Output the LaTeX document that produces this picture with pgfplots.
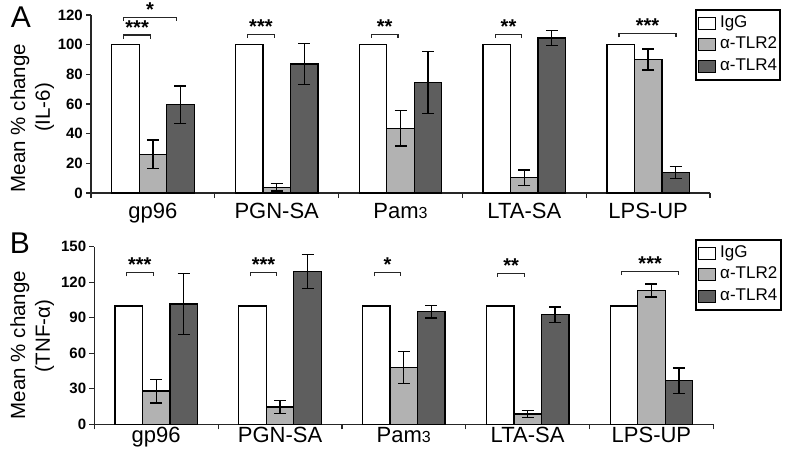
\documentclass[border=0pt]{standalone}
\usepackage{fontspec}
\setmainfont{Liberation Sans}
\usepackage{pgfplots}
\pgfplotsset{compat=1.18}
\definecolor{lg}{HTML}{B2B2B2}
\definecolor{dg}{HTML}{5E5E5E}
\newcommand\fs[1]{\fontsize{#1}{#1}\selectfont}
\newcommand\brk[6]{%
  \draw[line width=1.1pt, black!85] (axis cs:#1,#4) -- (axis cs:#1,#3) -- (axis cs:#2,#3) -- (axis cs:#2,#4);
  \node[anchor=base, inner sep=0pt, yshift=1pt, font=\bfseries\fs{20}] at (axis cs:#5,#3) {#6};}
\pgfplotsset{
  common/.style={
    scale only axis, anchor=south west, clip=false,
    ybar=0pt, bar width=27.5pt,
    xmin=-0.5, xmax=4.5, ymin=0,
    axis x line*=bottom, axis y line*=left,
    axis line style={line width=1.3pt, black!85},
    xtick={-0.5,0.5,...,4.5}, xticklabels={,,,,,},
    extra x ticks={0,1,2,3,4},
    extra x tick labels={gp96,PGN-SA,Pam{\fs{16}3},LTA-SA,LPS-UP},
    extra x tick style={major tick length=0pt},
    tick align=outside, major tick length=5pt,
    tick style={line width=1.2pt, black!85},
    x tick label style={font=\fs{22}, inner sep=0pt},
    y tick label style={font=\bfseries\fs{15}, inner sep=0pt, xshift=-3pt},
    /pgf/number format/assume math mode=true,
    error bars/y dir=both, error bars/y explicit,
    error bars/error bar style={line width=1.3pt, black},
    error bars/error mark options={black, mark size=6pt, line width=1.3pt, rotate=90},
    legend image code/.code={\draw[#1, line width=1.2pt] (0pt,-6pt) rectangle (17pt,6pt);},
    legend style={draw=black, line width=2pt, font=\fs{17}, inner xsep=2pt, inner ysep=3pt,
      nodes={inner xsep=1.3pt, inner ysep=1.7pt, text height=13pt, text depth=5pt},
      row sep=0pt, column sep=3pt,
      cells={anchor=west}, anchor=north west},
  },
}
\begin{document}
\begin{tikzpicture}
\useasboundingbox (0,0) rectangle (800pt,456pt);
% Panel A
\begin{axis}[common, at={(91pt,263pt)}, width=619pt, height=178pt,
  ymax=120, ytick={0,20,...,120},
  x tick label style={yshift=-10pt},
  legend style={at={(0.975,1.035)}}]
\addplot[fill=white, draw=black, line width=1.3pt] coordinates {(0,100) (1,100) (2,100) (3,100) (4,100)};
\addplot[fill=lg, draw=black, line width=1.3pt] coordinates {
  (0,26.0) +- (0,9.7)
  (1,3.8) +- (0,2.5)
  (2,43.6) +- (0,12.0)
  (3,10.3) +- (0,5.3)
  (4,90.0) +- (0,7.0)};
\addplot[fill=dg, draw=black, line width=1.3pt] coordinates {
  (0,59.5) +- (0,12.6)
  (1,87.0) +- (0,14.0)
  (2,74.4) +- (0,21.0)
  (3,104.5) +- (0,5.0)
  (4,13.7) +- (0,4.0)};
\legend{IgG,α-TLR2,α-TLR4}
\brk{-0.235}{-0.02}{106.5}{104}{-0.1275}{***}
\brk{-0.235}{0.19}{118.5}{116}{-0.0225}{*}
\brk{0.765}{0.98}{107}{104.5}{0.8725}{***}
\brk{1.765}{1.98}{107}{104.5}{1.8725}{**}
\brk{2.765}{2.98}{107}{104.5}{2.8725}{**}
\brk{3.765}{4.225}{107.5}{105}{3.995}{***}
\end{axis}
% Panel B
\begin{axis}[common, at={(94.3pt,31.7pt)}, width=619pt, height=177.6pt,
  ymax=150, ytick={0,30,...,150},
  x tick label style={yshift=-3pt},
  legend style={at={(0.970,1.045)}}]
\addplot[fill=white, draw=black, line width=1.3pt] coordinates {(0,100) (1,100) (2,100) (3,100) (4,100)};
\addplot[fill=lg, draw=black, line width=1.3pt] coordinates {
  (0,28.1) +- (0,10.0)
  (1,14.6) +- (0,5.4)
  (2,47.8) +- (0,13.5)
  (3,8.7) +- (0,2.9)
  (4,112.9) +- (0,5.5)};
\addplot[fill=dg, draw=black, line width=1.3pt] coordinates {
  (0,101.6) +- (0,26.0)
  (1,128.9) +- (0,14.4)
  (2,95.1) +- (0,5.3)
  (3,92.6) +- (0,6.5)
  (4,36.8) +- (0,10.7)};
\legend{IgG,α-TLR2,α-TLR4}
\brk{-0.24}{-0.025}{128}{125}{-0.1325}{***}
\brk{0.76}{0.975}{128}{125}{0.8675}{***}
\brk{1.76}{1.975}{128}{125}{1.8675}{*}
\brk{2.76}{2.975}{127.5}{124.5}{2.8675}{**}
\brk{3.76}{4.22}{129}{126}{3.99}{***}
\end{axis}
% labels
\node[rotate=90, anchor=base, inner sep=0pt, font=\fs{20.5}] at (25pt,338pt) {Mean \% change};
\node[rotate=90, anchor=base, inner sep=0pt, font=\fs{20.5}] at (50pt,348.5pt) {(IL-6)};
\node[rotate=90, anchor=base, inner sep=0pt, font=\fs{20.5}] at (25pt,111pt) {Mean \% change};
\node[rotate=90, anchor=base, inner sep=0pt, font=\fs{20.5}] at (50pt,120pt) {(TNF-α)};
\node[anchor=base, inner sep=0pt, font=\fs{30}] at (21pt,428pt) {A};
\node[anchor=base, inner sep=0pt, font=\fs{30}] at (20pt,203pt) {B};
\end{tikzpicture}
\end{document}
